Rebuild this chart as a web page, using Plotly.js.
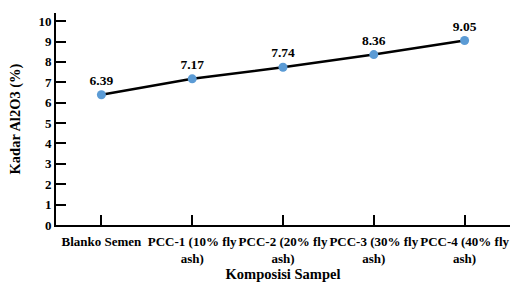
<!DOCTYPE html>
<html><head><meta charset="utf-8">
<script src="https://cdn.plot.ly/plotly-3.0.1.min.js"></script>
<style>html,body{margin:0;padding:0;background:#fff}
#chart svg text{font-family:"Liberation Serif" !important;}</style>
</head><body>
<div id="chart" style="width:515px;height:282px"></div>
<script>
const categories = ["Blanko Semen", "PCC-1 (10% fly<br>ash)", "PCC-2 (20% fly<br>ash)", "PCC-3 (30% fly<br>ash)", "PCC-4 (40% fly<br>ash)"];
const values = [6.39, 7.17, 7.74, 8.36, 9.05];
const labels = ["6.39", "7.17", "7.74", "8.36", "9.05"];
const yTicks = [0,1,2,3,4,5,6,7,8,9,10];

const font = {family: "Liberation Serif", color: "#000"};
const trace = {
  x: categories, y: values, type: "scatter", mode: "lines+markers+text",
  text: labels.map(t => "<b>" + t + "</b>"), textposition: "top center",
  textfont: Object.assign({}, font, {size: 13.5}),
  line: {color: "#000", width: 2.5},
  marker: {color: "#5B9BD5", size: 9},
  cliponaxis: false, hoverinfo: "none"
};
const layout = {
  width: 515, height: 282,
  margin: {l: 56, r: 5, t: 13, b: 57},
  paper_bgcolor: "#fff", plot_bgcolor: "#fff",
  showlegend: false,
  font: Object.assign({}, font, {size: 13}),
  xaxis: {
    type: "category", range: [-0.5, 4.5],
    showline: true, linecolor: "#000", linewidth: 2,
    ticks: "inside", ticklen: 10, tickwidth: 2, tickcolor: "#000",
    tickangle: 0, ticklabelstandoff: 3,
    showgrid: false, zeroline: false,
    tickfont: Object.assign({}, font, {size: 13, weight: "bold"}),
    title: {text: "<b>Komposisi Sampel</b>", font: Object.assign({}, font, {size: 14.5}), standoff: 5}
  },
  yaxis: {
    range: [0, 10.4], tickvals: yTicks, ticktext: yTicks.map(v => "<b>" + v + "</b>"),
    showline: true, linecolor: "#000", linewidth: 2,
    ticks: "inside", ticklen: 10, tickwidth: 2, tickcolor: "#000",
    showgrid: false, zeroline: false,
    tickfont: Object.assign({}, font, {size: 13}),
    title: {text: "<b>Kadar Al2O3 (%)</b>", font: Object.assign({}, font, {size: 14.5}), standoff: 14}
  }
};
function draw() { return Plotly.newPlot("chart", [trace], layout, {staticPlot: true, displayModeBar: false}); }
draw();
if (document.fonts && document.fonts.load) {
  Promise.all([document.fonts.load('bold 13px "Liberation Serif"'), document.fonts.load('13px "Liberation Serif"')])
    .then(draw, draw);
}
</script>
</body></html>
